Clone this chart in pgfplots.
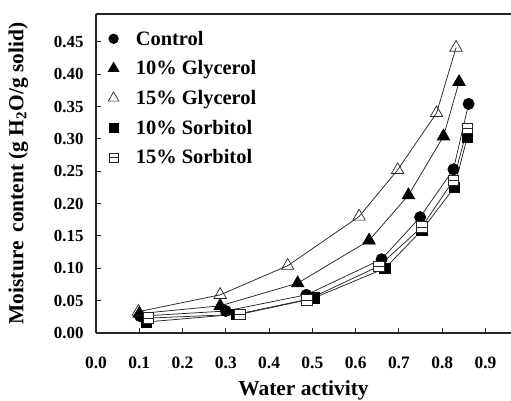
\documentclass[border=0pt]{standalone}
\usepackage{pgfplots}
\pgfplotsset{compat=1.18}
\usepackage{fontspec}
\setmainfont{Liberation Serif}
\pgfdeclareplotmark{sqh}{%
  \pgfpathrectangle{\pgfqpoint{-\pgfplotmarksize}{-\pgfplotmarksize}}{\pgfqpoint{2\pgfplotmarksize}{2\pgfplotmarksize}}%
  \pgfusepathqfillstroke
  \pgfpathmoveto{\pgfqpoint{-\pgfplotmarksize}{0pt}}%
  \pgfpathlineto{\pgfqpoint{\pgfplotmarksize}{0pt}}%
  \pgfusepathqstroke}
\begin{document}
\begin{tikzpicture}[x=1bp,y=1bp]
\begin{axis}[
  scale only axis,
  width=415bp, height=319bp,
  xmin=0, xmax=0.959, ymin=0, ymax=0.493,
  axis x line*=box, axis y line*=left,
  axis line style={line width=1.3bp, black!85},
  tick style={line width=1bp, black!85},
  tick align=inside, major tick length=5bp,
  xtick={0,0.1,...,0.9}, ytick={0,0.05,...,0.45},
  xtick pos=bottom, ytick pos=left,
  /pgf/number format/assume math mode=true,
  xticklabel style={font=\fontsize{17.5}{19}\selectfont\bfseries, /pgf/number format/fixed, /pgf/number format/fixed zerofill, /pgf/number format/precision=1, yshift=-20bp},
  yticklabel style={font=\fontsize{17}{18}\selectfont\bfseries, /pgf/number format/fixed, /pgf/number format/fixed zerofill, /pgf/number format/precision=2, xshift=-9bp},
  xlabel={Water activity},
  ylabel={Moisture\, content (g H\textsubscript{2}O/g solid)},
  label style={font=\fontsize{21.5}{23}\selectfont\bfseries},
  xlabel style={yshift=-5bp},
  ylabel style={yshift=19bp},
  legend style={draw=none, fill=none, at={(0.022,0.96)}, anchor=north west,
    font=\fontsize{20.5}{22}\selectfont\bfseries, row sep=10bp,
    /tikz/every odd column/.append style={column sep=15bp}},
  legend cell align=left,
  legend image code/.code={\draw[#1, every mark/.append style={scale=0.85}] plot[only marks] coordinates {(0cm,0cm)};},
  every axis plot/.append style={line width=0.75bp, black!85, mark options={solid, black}},
]
\addplot[mark=*, mark size=5.6pt] coordinates {
(0.102,0.026) (0.300,0.034) (0.486,0.059) (0.660,0.114) (0.749,0.179) (0.826,0.253) (0.861,0.354)};
\addlegendentry{Control}
\addplot[mark=triangle*, mark size=7.2pt] coordinates {
(0.100,0.030) (0.287,0.042) (0.466,0.077) (0.631,0.143) (0.722,0.213) (0.803,0.304) (0.839,0.388)};
\addlegendentry{10\% Glycerol}
\addplot[mark=triangle, mark size=7.2pt, mark options={fill=white, line width=0.7bp}] coordinates {
(0.098,0.033) (0.287,0.059) (0.443,0.104) (0.608,0.180) (0.697,0.252) (0.787,0.340) (0.832,0.441)};
\addlegendentry{15\% Glycerol}
\addplot[mark=square*, mark size=5.3pt] coordinates {
(0.116,0.017) (0.326,0.029) (0.503,0.054) (0.668,0.100) (0.753,0.159) (0.828,0.225) (0.858,0.303)};
\addlegendentry{10\% Sorbitol}
\addplot[mark=sqh, mark size=5.3pt, mark options={fill=white, line width=0.7bp}] coordinates {
(0.121,0.023) (0.333,0.029) (0.487,0.051) (0.653,0.103) (0.753,0.164) (0.826,0.236) (0.858,0.316)};
\addlegendentry{15\% Sorbitol}
\coordinate (o) at (rel axis cs:0,0);
\end{axis}
\pgfresetboundingbox
\path[use as bounding box] (o) ++(-96bp,-68bp) rectangle ++(511bp,401bp);
\end{tikzpicture}
\end{document}
